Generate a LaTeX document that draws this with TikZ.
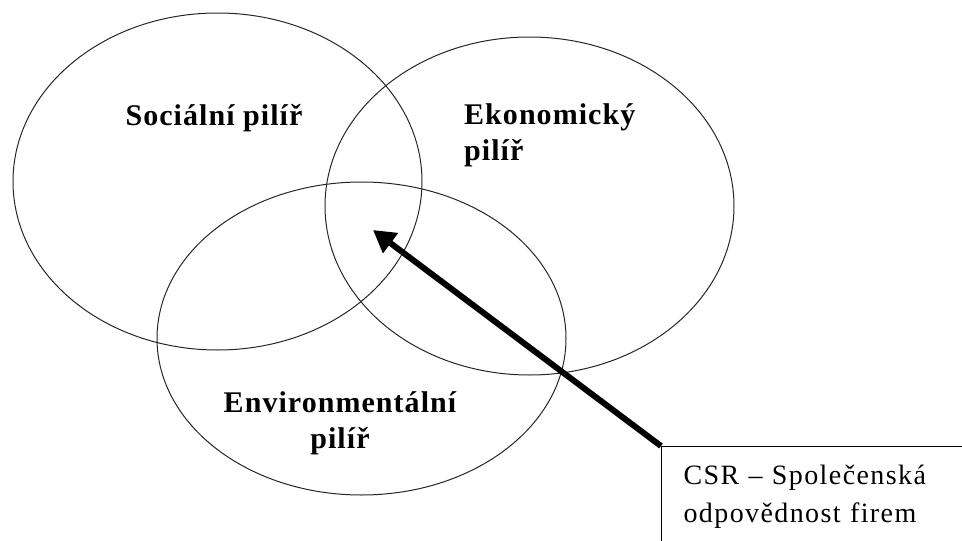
\documentclass[tikz,border=0pt]{standalone}
\usepackage{fontspec}
\setmainfont{Liberation Serif}
\usetikzlibrary{arrows.meta}
\tikzstyle{pillar}=[draw=black!85,line width=1pt]
\tikzstyle{lbl}=[font=\fontsize{30}{36}\selectfont\bfseries\addfontfeature{LetterSpace=3.5},inner sep=0pt]
\tikzstyle{note}=[draw,line width=1.2pt,anchor=north west,inner xsep=22pt,text width=290pt,minimum height=100pt,align=left,font=\fontsize{28}{38}\selectfont\addfontfeature{LetterSpace=5}]
\tikzstyle{ptr}=[line width=6pt,-{Triangle[length=22pt,width=24pt]}]

\begin{document}
\begin{tikzpicture}[x=1pt,y=-1pt]
          \useasboundingbox (0,0) rectangle (962,541);
          \clip (0,0) rectangle (962,541);

          % the three pillars
          \draw[pillar] (217.5,181.5) ellipse (204.5pt and 168.5pt);
          \draw[pillar] (529.5,206) ellipse (204.5pt and 169pt);
          \draw[pillar] (361.5,338.5) ellipse (204.5pt and 156.5pt);

          \node[lbl] (soc) [anchor=base] at (214,125) {Sociální pilíř};
          \node[lbl] (eko) [anchor=north west,align=left] at (464,103) {Ekonomický\\pilíř};
          \node[lbl] (env) [anchor=north,align=center] at (340,391) {Environmentální\\pilíř};

          % CSR
          \node[note] (csr) at (661,446) {CSR – Společenská\\odpovědnost firem};
          \coordinate (mid) at (373,230);
          \draw[ptr] (csr.north west) -- (mid);
\end{tikzpicture}
\end{document}
